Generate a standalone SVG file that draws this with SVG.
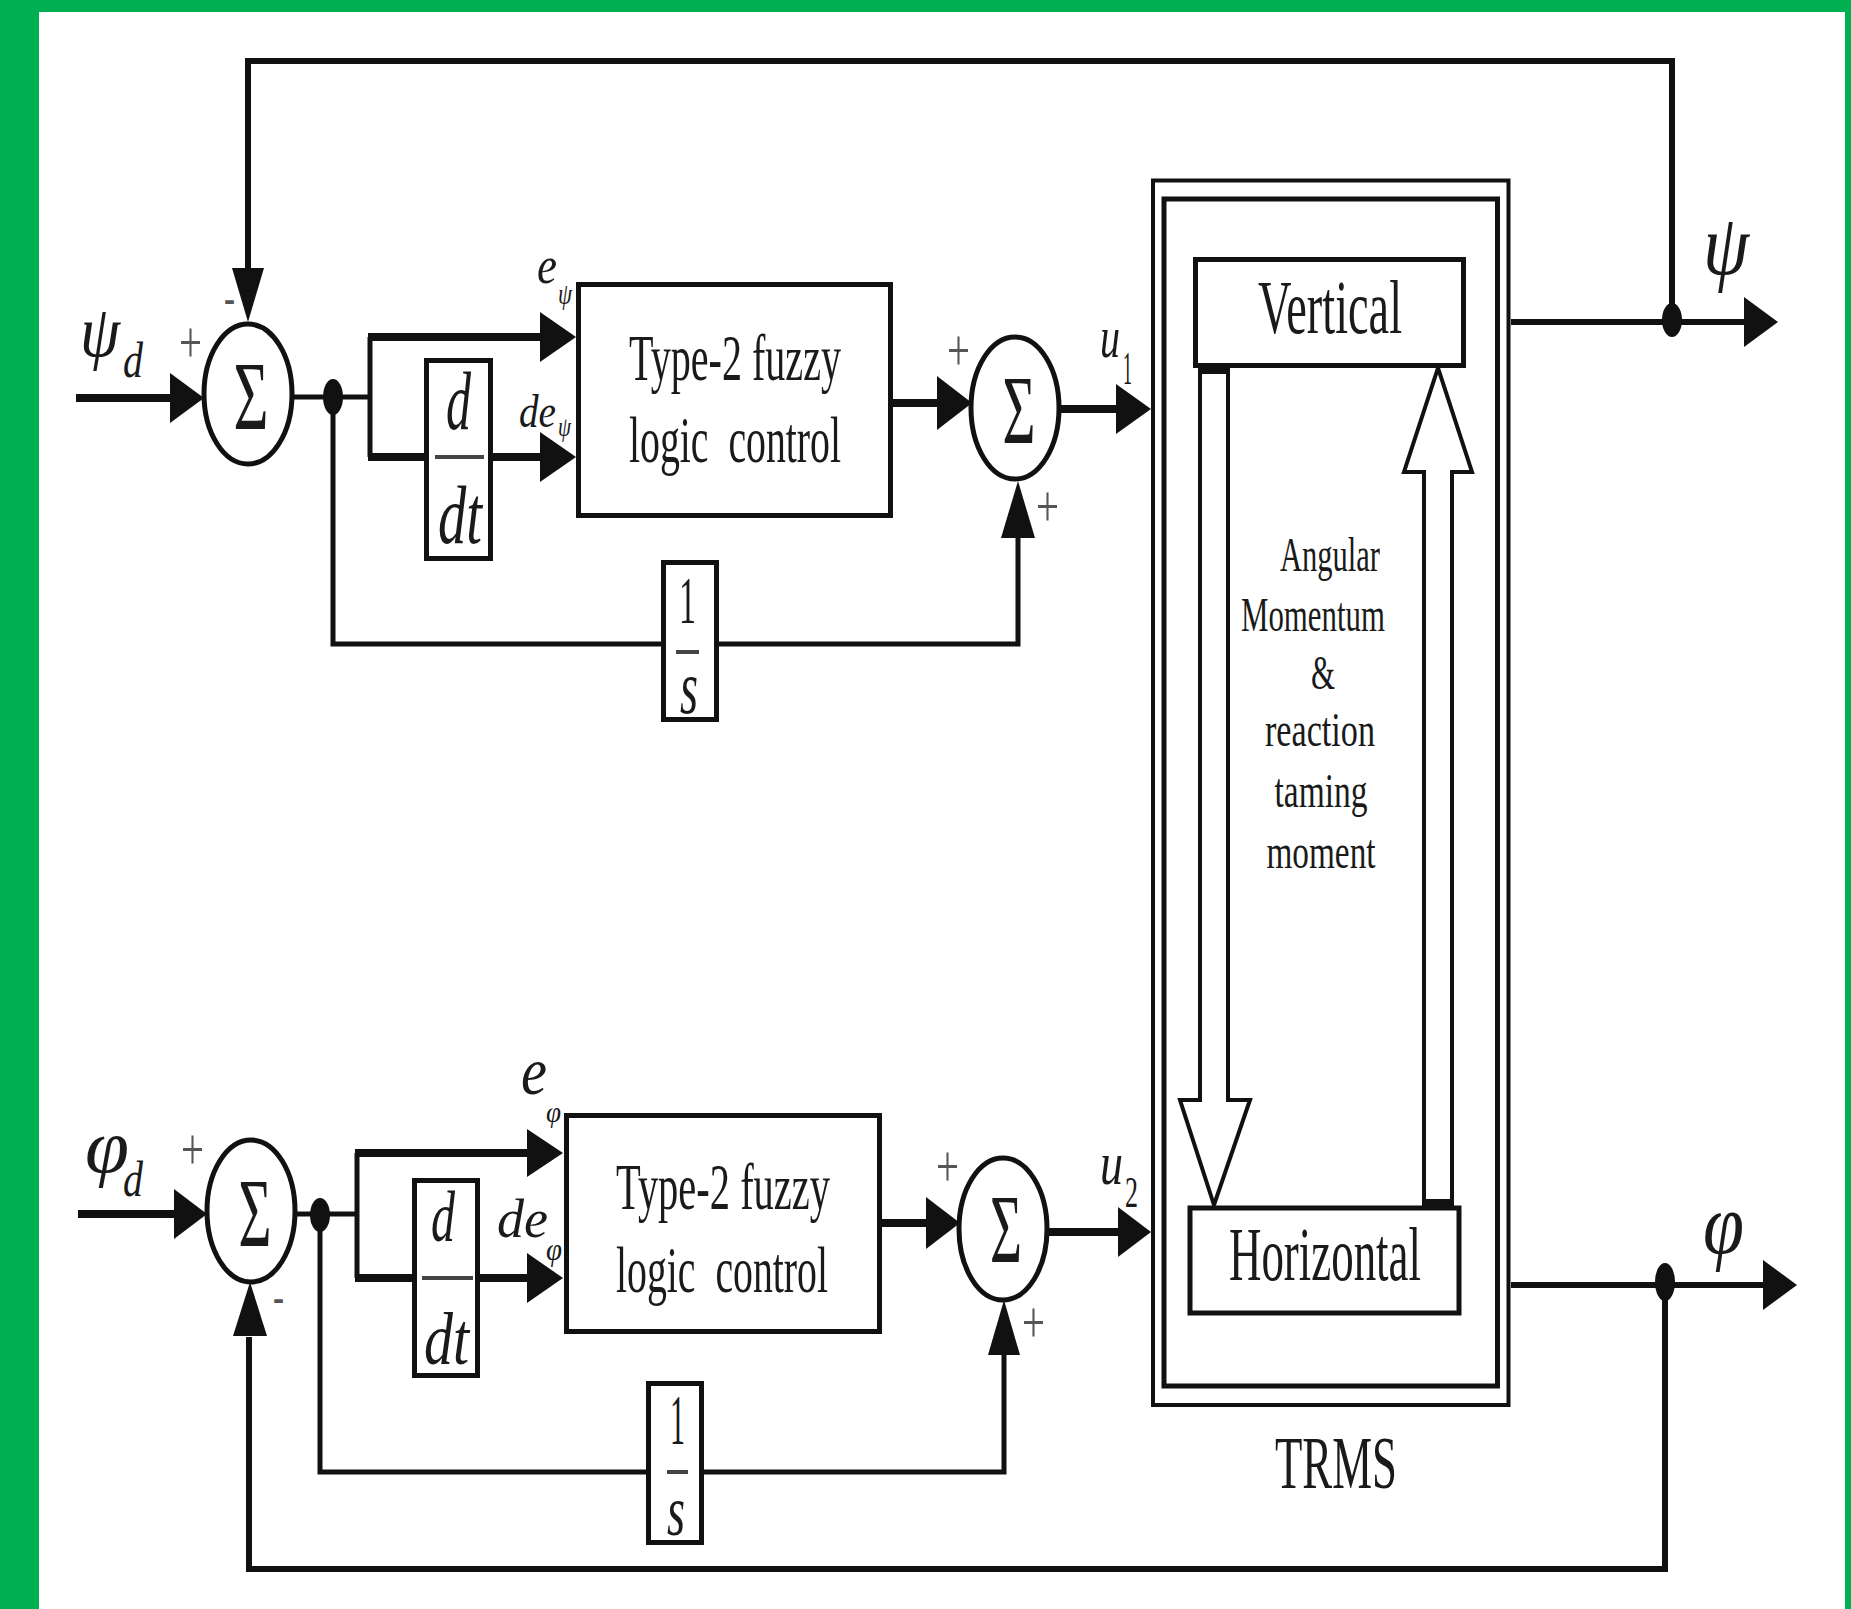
<svg xmlns="http://www.w3.org/2000/svg" width="1851" height="1609" viewBox="0 0 1851 1609">
<style>
.ln{fill:none;stroke:#111;stroke-width:5;stroke-linejoin:miter}
.thk{stroke-width:8}
.box{fill:#fff;stroke:#111;stroke-width:5}
.trms{fill:none;stroke:#111}
.ah{fill:#111;stroke:none}
.dot{fill:#111}
.frac{stroke:#444;stroke-width:4}
.t{font-family:"Liberation Serif","Times New Roman",serif;fill:#1a1a1a}
.i{font-style:italic}
.pm{fill:#555}
.hol{fill:#fff;stroke:#111;stroke-width:4;stroke-linejoin:miter}
</style>
<rect x="0" y="0" width="1851" height="1609" fill="#fff"/>
<g id="frame" fill="#00B050">
<rect x="0" y="0" width="39" height="1609"/>
<rect x="0" y="0" width="1851" height="12"/>
<rect x="1845" y="0" width="6" height="1609"/>
</g>

<g id="connectors">
<!-- top loop -->
<line class="ln thk" x1="76" y1="398" x2="174" y2="398"/>
<polygon class="ah" points="170,373 204,398 170,423"/>
<line class="ln" x1="293" y1="397" x2="370" y2="397"/>
<polyline class="ln" points="370,337 370,457"/>
<line class="ln thk" x1="368" y1="337" x2="542" y2="337"/>
<polygon class="ah" points="540,312 576,337 540,362"/>
<line class="ln thk" x1="368" y1="457" x2="426" y2="457"/>
<line class="ln thk" x1="491" y1="457" x2="542" y2="457"/>
<polygon class="ah" points="540,432 576,457 540,482"/>
<line class="ln thk" x1="891" y1="403" x2="940" y2="403"/>
<polygon class="ah" points="937,376 972,403 937,430"/>
<line class="ln thk" x1="1058" y1="409" x2="1118" y2="409"/>
<polygon class="ah" points="1116,384 1151,409 1116,434"/>
<polyline class="ln" points="333,397 333,644 663,644"/>
<polyline class="ln" points="717,644 1018,644 1018,535"/>
<polygon class="ah" points="1001,538 1018,481 1035,538"/>
<line class="ln" x1="1511" y1="322" x2="1746" y2="322" style="stroke-width:6"/>
<polygon class="ah" points="1744,297 1778,322 1744,347"/>
<polyline class="ln" points="1672,320 1672,61 248,61 248,270" style="stroke-width:6"/>
<polygon class="ah" points="232,268 248,322 264,268"/>
<!-- bottom loop -->
<line class="ln thk" x1="78" y1="1214" x2="176" y2="1214"/>
<polygon class="ah" points="174,1189 207,1214 174,1239"/>
<line class="ln" x1="296" y1="1214" x2="357" y2="1214"/>
<polyline class="ln" points="357,1153 357,1278"/>
<line class="ln thk" x1="355" y1="1153" x2="529" y2="1153"/>
<polygon class="ah" points="527,1129 563,1153 527,1177"/>
<line class="ln thk" x1="355" y1="1278" x2="415" y2="1278"/>
<line class="ln thk" x1="478" y1="1278" x2="529" y2="1278"/>
<polygon class="ah" points="527,1253 563,1278 527,1303"/>
<line class="ln thk" x1="880" y1="1223" x2="928" y2="1223"/>
<polygon class="ah" points="926,1197 960,1223 926,1249"/>
<line class="ln thk" x1="1046" y1="1232" x2="1120" y2="1232"/>
<polygon class="ah" points="1118,1207 1151,1232 1118,1257"/>
<polyline class="ln" points="320,1215 320,1472 648,1472"/>
<polyline class="ln" points="702,1472 1004,1472 1004,1353"/>
<polygon class="ah" points="988,1355 1004,1300 1020,1355"/>
<line class="ln" x1="1511" y1="1285" x2="1765" y2="1285" style="stroke-width:6"/>
<polygon class="ah" points="1763,1260 1797,1285 1763,1310"/>
<polyline class="ln" points="1665,1282 1665,1569 249,1569 249,1337" style="stroke-width:6"/>
<polygon class="ah" points="233,1336 250,1282 267,1336"/>
<!-- junction dots -->
<ellipse class="dot" cx="333" cy="397" rx="10" ry="18"/>
<ellipse class="dot" cx="1672" cy="320" rx="10" ry="17"/>
<ellipse class="dot" cx="320" cy="1215" rx="10" ry="17"/>
<ellipse class="dot" cx="1665" cy="1282" rx="10" ry="19"/>
</g>

<!-- labels -->
<g id="labels">
<text class="t i" x="80" y="356" font-size="72" textLength="40" lengthAdjust="spacingAndGlyphs">ψ</text>
<text class="t i" x="123" y="377" font-size="50" textLength="20" lengthAdjust="spacingAndGlyphs">d</text>
<text class="t pm" x="179" y="362" font-size="60" textLength="23" lengthAdjust="spacingAndGlyphs">+</text>
<text class="t pm" x="224" y="314" font-size="50" textLength="11" lengthAdjust="spacingAndGlyphs">-</text>
<text class="t i" x="537" y="283" font-size="52" textLength="20" lengthAdjust="spacingAndGlyphs">e</text>
<text class="t i" x="558" y="304" font-size="30" textLength="14" lengthAdjust="spacingAndGlyphs">ψ</text>
<text class="t i" x="519" y="427" font-size="46" textLength="37" lengthAdjust="spacingAndGlyphs">de</text>
<text class="t i" x="558" y="436" font-size="28" textLength="13" lengthAdjust="spacingAndGlyphs">ψ</text>
<text class="t pm" x="947" y="370" font-size="60" textLength="23" lengthAdjust="spacingAndGlyphs">+</text>
<text class="t pm" x="1036" y="526" font-size="60" textLength="23" lengthAdjust="spacingAndGlyphs">+</text>
<text class="t i" x="1100" y="357" font-size="60" textLength="20" lengthAdjust="spacingAndGlyphs">u</text>
<text class="t" x="1123" y="384" font-size="46" textLength="9" lengthAdjust="spacingAndGlyphs">1</text>
<text class="t i" x="1703" y="274" font-size="86" textLength="46" lengthAdjust="spacingAndGlyphs">ψ</text>

<text class="t i" x="85" y="1172" font-size="76" textLength="44" lengthAdjust="spacingAndGlyphs">φ</text>
<text class="t i" x="123" y="1196" font-size="50" textLength="20" lengthAdjust="spacingAndGlyphs">d</text>
<text class="t pm" x="181" y="1169" font-size="60" textLength="23" lengthAdjust="spacingAndGlyphs">+</text>
<text class="t pm" x="273" y="1313" font-size="50" textLength="11" lengthAdjust="spacingAndGlyphs">-</text>
<text class="t i" x="521" y="1094" font-size="68" textLength="26" lengthAdjust="spacingAndGlyphs">e</text>
<text class="t i" x="546" y="1122" font-size="30" textLength="15" lengthAdjust="spacingAndGlyphs">φ</text>
<text class="t i" x="497" y="1237" font-size="54" textLength="51" lengthAdjust="spacingAndGlyphs">de</text>
<text class="t i" x="546" y="1260" font-size="32" textLength="16" lengthAdjust="spacingAndGlyphs">φ</text>
<text class="t pm" x="936" y="1186" font-size="60" textLength="23" lengthAdjust="spacingAndGlyphs">+</text>
<text class="t pm" x="1022" y="1342" font-size="60" textLength="23" lengthAdjust="spacingAndGlyphs">+</text>
<text class="t i" x="1100" y="1184" font-size="62" textLength="23" lengthAdjust="spacingAndGlyphs">u</text>
<text class="t" x="1125" y="1207" font-size="44" textLength="13" lengthAdjust="spacingAndGlyphs">2</text>
<text class="t i" x="1703" y="1253" font-size="86" textLength="41" lengthAdjust="spacingAndGlyphs">φ</text>
</g>

<!-- top loop nodes -->
<g id="sum1">
<ellipse class="box" cx="248" cy="394" rx="44" ry="70"/>
<text class="t" x="251" y="429" font-size="98" text-anchor="middle" textLength="35" lengthAdjust="spacingAndGlyphs">Σ</text>
</g>
<g id="ddt1">
<rect class="box" x="426.5" y="360.5" width="64" height="198"/>
<text class="t i" x="446" y="429" font-size="82" textLength="25" lengthAdjust="spacingAndGlyphs">d</text>
<line class="frac" x1="435" y1="457" x2="484" y2="457"/>
<text class="t i" x="438" y="543" font-size="82" textLength="44" lengthAdjust="spacingAndGlyphs">dt</text>
</g>
<g id="fuzzy1">
<rect class="box" x="578.5" y="284.5" width="312" height="231"/>
<text class="t" x="629" y="380" font-size="66" textLength="212" lengthAdjust="spacingAndGlyphs">Type-2 fuzzy</text>
<text class="t" x="629" y="462" font-size="66" textLength="212" lengthAdjust="spacingAndGlyphs" style="white-space:pre">logic  control</text>
</g>
<g id="int1">
<rect class="box" x="663.5" y="562.5" width="53" height="157"/>
<text class="t" x="679" y="623" font-size="68" textLength="17" lengthAdjust="spacingAndGlyphs">1</text>
<line class="frac" x1="676" y1="652" x2="699" y2="652"/>
<text class="t i" x="680" y="713" font-size="76" textLength="18" lengthAdjust="spacingAndGlyphs">s</text>
</g>
<g id="sum2">
<ellipse class="box" cx="1015" cy="408" rx="44" ry="71"/>
<text class="t" x="1019" y="443" font-size="98" text-anchor="middle" textLength="33" lengthAdjust="spacingAndGlyphs">Σ</text>
</g>

<!-- bottom loop nodes -->
<g id="sum3">
<ellipse class="box" cx="251" cy="1211" rx="44" ry="71"/>
<text class="t" x="255" y="1246" font-size="98" text-anchor="middle" textLength="33" lengthAdjust="spacingAndGlyphs">Σ</text>
</g>
<g id="ddt2">
<rect class="box" x="414.5" y="1180.5" width="63" height="195"/>
<text class="t i" x="431" y="1241" font-size="72" textLength="24" lengthAdjust="spacingAndGlyphs">d</text>
<line class="frac" x1="422" y1="1278" x2="473" y2="1278"/>
<text class="t i" x="424" y="1364" font-size="74" textLength="45" lengthAdjust="spacingAndGlyphs">dt</text>
</g>
<g id="fuzzy2">
<rect class="box" x="566.5" y="1115.5" width="313" height="216"/>
<text class="t" x="616" y="1209" font-size="66" textLength="214" lengthAdjust="spacingAndGlyphs">Type-2 fuzzy</text>
<text class="t" x="616" y="1292" font-size="66" textLength="212" lengthAdjust="spacingAndGlyphs" style="white-space:pre">logic  control</text>
</g>
<g id="int2">
<rect class="box" x="648.5" y="1383.5" width="53" height="159"/>
<text class="t" x="670" y="1444" font-size="72" textLength="15" lengthAdjust="spacingAndGlyphs">1</text>
<line class="frac" x1="667" y1="1472" x2="688" y2="1472"/>
<text class="t i" x="667" y="1535" font-size="72" textLength="18" lengthAdjust="spacingAndGlyphs">s</text>
</g>
<g id="sum4">
<ellipse class="box" cx="1003" cy="1229" rx="44" ry="71"/>
<text class="t" x="1006" y="1262" font-size="98" text-anchor="middle" textLength="32" lengthAdjust="spacingAndGlyphs">Σ</text>
</g>

<!-- TRMS -->
<g id="trms">
<rect class="trms" x="1153" y="180.5" width="355.5" height="1224.5" stroke-width="4"/>
<rect class="trms" x="1164" y="199" width="333.5" height="1187" stroke-width="5"/>
<text class="t" x="1275" y="1488" font-size="74" textLength="122" lengthAdjust="spacingAndGlyphs">TRMS</text>
</g>
<g id="coupling">
<polygon class="hol" points="1200,368 1200,1100 1180,1100 1214,1205 1250,1100 1228,1100 1228,368"/>
<rect x="1200" y="365" width="28" height="9" fill="#111"/>
<polygon class="hol" points="1424,1206 1424,472 1404,472 1438,368 1472,472 1452,472 1452,1206"/>
<rect x="1424" y="1199" width="28" height="9" fill="#111"/>
<text class="t" x="1330" y="571" font-size="48" text-anchor="middle" textLength="100" lengthAdjust="spacingAndGlyphs">Angular</text>
<text class="t" x="1313" y="631" font-size="48" text-anchor="middle" textLength="144" lengthAdjust="spacingAndGlyphs">Momentum</text>
<text class="t" x="1323" y="689" font-size="48" text-anchor="middle" textLength="24" lengthAdjust="spacingAndGlyphs">&amp;</text>
<text class="t" x="1320" y="746" font-size="48" text-anchor="middle" textLength="110" lengthAdjust="spacingAndGlyphs">reaction</text>
<text class="t" x="1321" y="807" font-size="48" text-anchor="middle" textLength="93" lengthAdjust="spacingAndGlyphs">taming</text>
<text class="t" x="1321" y="868" font-size="48" text-anchor="middle" textLength="109" lengthAdjust="spacingAndGlyphs">moment</text>
</g>
<g id="vertical">
<rect class="box" x="1195.5" y="259.5" width="268" height="106" stroke-width="4"/>
<text class="t" x="1258" y="333" font-size="77" textLength="144" lengthAdjust="spacingAndGlyphs">Vertical</text>
</g>
<g id="horizontal">
<rect class="box" x="1190" y="1208" width="269" height="105" stroke-width="4"/>
<text class="t" x="1229" y="1280" font-size="76" textLength="192" lengthAdjust="spacingAndGlyphs">Horizontal</text>
</g>
</svg>
